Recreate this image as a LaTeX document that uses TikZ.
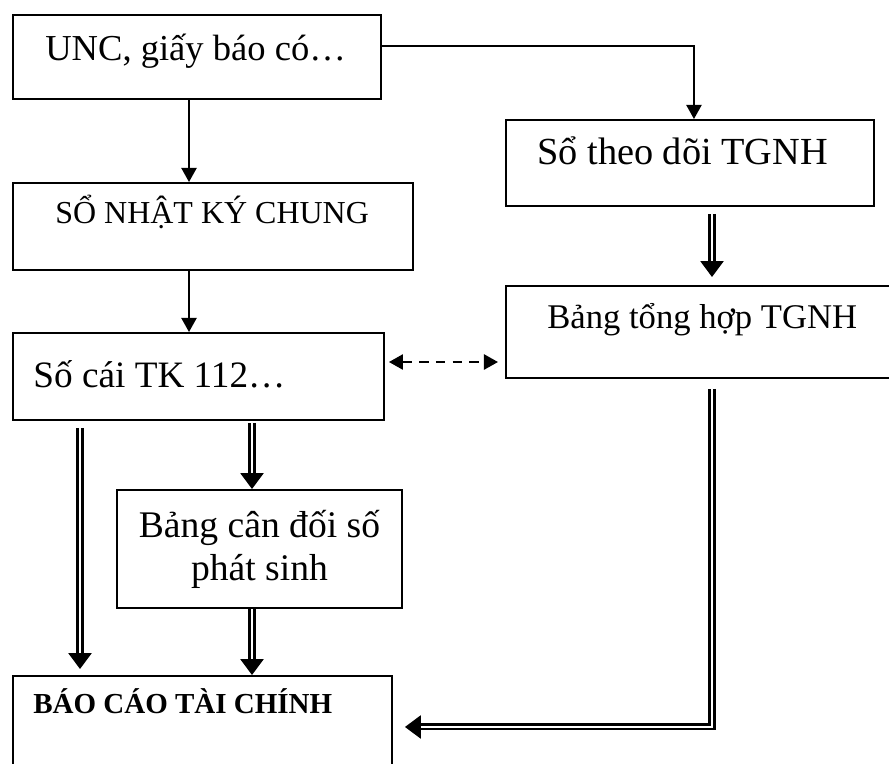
\documentclass[tikz,border=0pt]{standalone}
\usepackage{fontspec}
\setmainfont{Liberation Serif}
\usetikzlibrary{arrows.meta}

\tikzset{
  hop/.style={draw, line width=1.1pt, anchor=north west, inner sep=0pt},
  chu/.style={anchor=base west, inner sep=0pt, font=\fontsize{#1}{#1}\selectfont},
  pil/.style={line width=1.1pt, -{Triangle[length=8pt,width=8.6pt]}},
  kep/.style={double, double distance=1.2pt, line width=1.4pt, -{Triangle[length=9pt,width=13pt]}},
}

\begin{document}
\begin{tikzpicture}
  \useasboundingbox (0,0) rectangle (17.78,-15.26);
  % cac o
  \node[hop, minimum width=7.36cm, minimum height=1.68cm] (unc) at (0.24,-0.28) {};
  \node[hop, minimum width=7.36cm, minimum height=1.72cm] (theo) at (10.1,-2.38) {};
  \node[hop, minimum width=8cm, minimum height=1.74cm] (nkc) at (0.24,-3.64) {};
  \node[hop, minimum width=7.8cm, minimum height=1.84cm] (tonghop) at (10.1,-5.7) {};
  \node[hop, minimum width=7.42cm, minimum height=1.74cm] (socai) at (0.24,-6.64) {};
  \node[hop, minimum width=5.7cm, minimum height=2.36cm, align=center,
        font=\fontsize{21.4pt}{24.4pt}\selectfont] (bcdps) at (2.32,-9.78) {Bảng cân đối số\\phát sinh};
  \node[hop, minimum width=7.58cm, minimum height=2.04cm] (bcao) at (0.24,-13.5) {};
  % chu trong o
  \node[chu=20.8pt] (tunc) at (0.9,-1.2) {UNC, giấy báo có…};
  \node[chu=21.8pt] (ttheo) at (10.74,-3.28) {Sổ theo dõi TGNH};
  \node[chu=18.2pt] (tnkc) at (1.1,-4.46) {SỔ NHẬT KÝ CHUNG};
  \node[chu=19.7pt] (ttonghop) at (10.94,-6.56) {Bảng tổng hợp TGNH};
  \node[chu=21.2pt] (tsocai) at (0.66,-7.74) {Số cái TK 112…};
  \node[chu=16.5pt] (tbcao) at (0.66,-14.26) {\bfseries BÁO CÁO TÀI CHÍNH};
  % mui ten don
  \coordinate (trucA) at (3.78,0);
  \draw[pil] (trucA |- unc.south) -- (trucA |- nkc.north);
  \draw[pil] (trucA |- nkc.south) -- (trucA |- socai.north);
  \draw[pil] ([yshift=0.22cm]unc.east) -| ([xshift=0.08cm]theo.north);
  \coordinate (ngang) at (0,-7.24);
  \draw[line width=1.3pt, dash pattern=on 5.5pt off 4pt,
        {Triangle[length=8pt,width=8.6pt]}-{Triangle[length=8pt,width=8.6pt]},
        shorten <=0.08cm, shorten >=0.14cm] (ngang -| socai.east) -- (ngang -| tonghop.west);
  % mui ten kep
  \coordinate (trucB) at (14.24,0);
  \coordinate (trucC) at (1.6,0);
  \coordinate (trucD) at (5.04,0);
  \draw[kep, shorten <=0.14cm, shorten >=0.16cm] (trucB |- theo.south) -- (trucB |- tonghop.north);
  \draw[kep, shorten <=0.14cm, shorten >=0.12cm] (trucC |- socai.south) -- (trucC |- bcao.north);
  \draw[kep, shorten <=0.04cm] (trucD |- socai.south) -- (trucD |- bcdps.north);
  \draw[kep] (trucD |- bcdps.south) -- (trucD |- bcao.north);
  \draw[kep, shorten <=0.2cm, shorten >=0.24cm] (trucB |- tonghop.south) |- (bcao.east);
\end{tikzpicture}
\end{document}
